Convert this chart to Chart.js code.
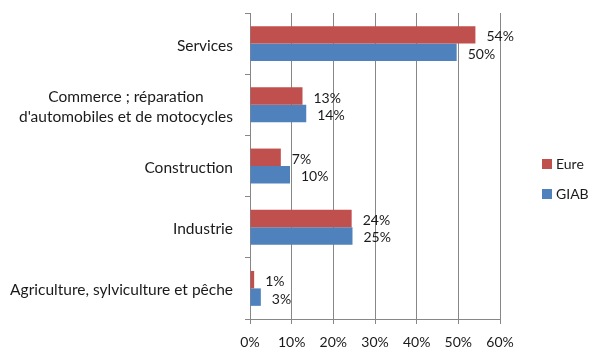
<!DOCTYPE html>
<html><head><meta charset="utf-8">
<script src="https://cdn.jsdelivr.net/npm/chart.js@4.4.0/dist/chart.umd.min.js"></script>
<style>html,body{margin:0;padding:0;background:#fff}#wrap{width:600px;height:355px;position:relative}</style>
</head><body><div id="wrap"><canvas id="c" width="600" height="355"></canvas></div>
<script>
const categories = ['Services', ['Commerce ; réparation', "d'automobiles et de motocycles"], 'Construction', 'Industrie', 'Agriculture, sylviculture et pêche'];
const seriesNames = ['Eure', 'GIAB'];
const eureValues = [54.1, 12.6, 7.4, 24.4, 1.0];
const giabValues = [49.6, 13.5, 9.6, 24.6, 2.6];
const eureLabels = ['54%', '13%', '7%', '24%', '1%'];
const giabLabels = ['50%', '14%', '10%', '25%', '3%'];
const xTickValues = [0, 10, 20, 30, 40, 50, 60];
const seriesColors = ['#C0504D', '#4F81BD'];

const FONT = 'Lato, "Open Sans", sans-serif';
const FS = 14;
const CAT_FS = 15.5;
const TEXT = '#1a1a1a';
const GRID = '#878787';

const valueLabels = [eureLabels, giabLabels];

const yLabelPlugin = {
  id: 'yLabels',
  afterDraw(chart) {
    const ctx = chart.ctx, ys = chart.scales.y;
    ctx.save();
    ctx.font = CAT_FS + 'px ' + FONT;
    ctx.fillStyle = TEXT;
    ctx.textBaseline = 'middle';
    ctx.textAlign = 'center';
    categories.forEach((lab, i) => {
      const lines = Array.isArray(lab) ? lab : [lab];
      const y = ys.getPixelForValue(i) + 2;
      const maxW = Math.max(...lines.map(l => ctx.measureText(l).width));
      const right = ys.right - 17;
      const lh = 20;
      lines.forEach((l, k) => {
        ctx.fillText(l, right - maxW / 2, y + (k - (lines.length - 1) / 2) * lh);
      });
    });
    ctx.restore();
  }
};

const valueLabelPlugin = {
  id: 'valueLabels',
  afterDatasetsDraw(chart) {
    const ctx = chart.ctx;
    ctx.save();
    ctx.font = FS + 'px ' + FONT;
    ctx.fillStyle = TEXT;
    ctx.textBaseline = 'middle';
    ctx.textAlign = 'left';
    chart.data.datasets.forEach((ds, di) => {
      chart.getDatasetMeta(di).data.forEach((bar, i) => {
        ctx.fillText(valueLabels[di][i], bar.x + 11, bar.y + 2);
      });
    });
    ctx.restore();
  }
};

const legendPlugin = {
  id: 'customLegend',
  afterDraw(chart) {
    const ctx = chart.ctx, ca = chart.chartArea;
    ctx.save();
    ctx.font = FS + 'px ' + FONT;
    ctx.textBaseline = 'middle';
    ctx.textAlign = 'left';
    const x = ca.right + 42;
    const cy = chart.height / 2 + 1.5;
    const gap = 30;
    chart.data.datasets.forEach((ds, di) => {
      const y = cy + (di - (chart.data.datasets.length - 1) / 2) * gap;
      ctx.fillStyle = ds.backgroundColor;
      ctx.fillRect(x, y - 5, 10, 10);
      ctx.fillStyle = TEXT;
      ctx.fillText(ds.label, x + 14, y);
    });
    ctx.restore();
  }
};

new Chart(document.getElementById('c'), {
  type: 'bar',
  data: {
    labels: categories,
    datasets: [
      { label: seriesNames[0], data: eureValues, backgroundColor: seriesColors[0], borderWidth: 0 },
      { label: seriesNames[1], data: giabValues, backgroundColor: seriesColors[1], borderWidth: 0 }
    ]
  },
  options: {
    indexAxis: 'y',
    responsive: false,
    animation: false,
    devicePixelRatio: 1,
    layout: { padding: { left: 0, top: 13, right: 100, bottom: 0 } },
    datasets: { bar: { categoryPercentage: 0.57, barPercentage: 1.0 } },
    plugins: { legend: { display: false }, tooltip: { enabled: false } },
    scales: {
      x: {
        min: xTickValues[0],
        max: xTickValues[xTickValues.length - 1],
        afterBuildTicks(s) { s.ticks = xTickValues.map(v => ({ value: v })); },
        afterFit(s) { s.height = 36; },
        ticks: {
          callback: v => v + '%',
          color: TEXT,
          font: { family: FONT, size: FS },
          padding: 10,
          maxRotation: 0
        },
        grid: { color: GRID, tickLength: 5, drawTicks: true, lineWidth: 1 },
        border: { color: GRID, width: 1 }
      },
      y: {
        offset: true,
        afterFit(s) { s.width = 250; },
        ticks: { display: false },
        grid: { drawOnChartArea: false, offset: true, color: GRID, tickLength: 5, drawTicks: true },
        border: { color: GRID, width: 1 }
      }
    }
  },
  plugins: [yLabelPlugin, valueLabelPlugin, legendPlugin]
});
</script>
</body></html>
